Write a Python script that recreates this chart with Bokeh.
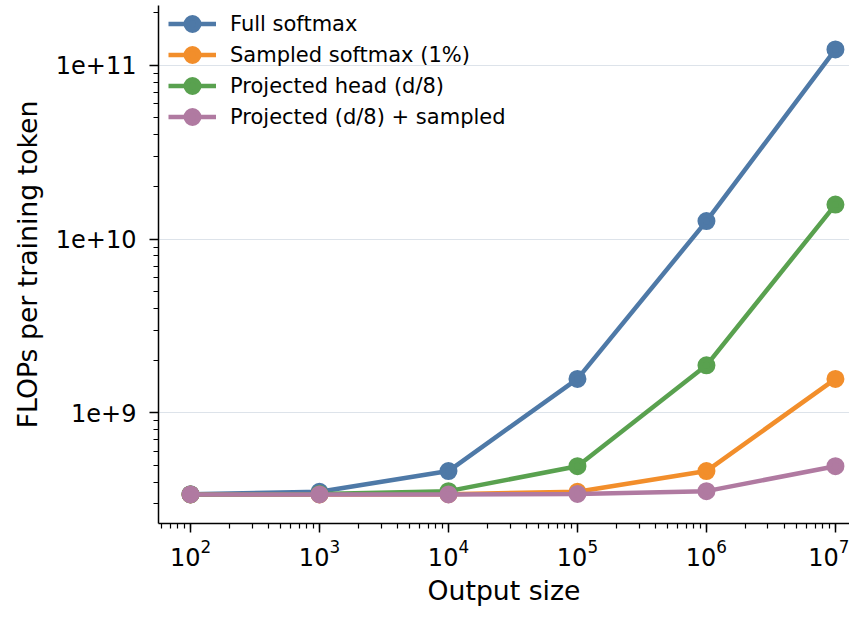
from bokeh.plotting import figure
from bokeh.models import CustomJSTickFormatter, Range1d, Legend, LegendItem
from bokeh.embed import file_html
from bokeh.resources import INLINE

output_sizes = [1e2, 1e3, 1e4, 1e5, 1e6, 1e7]
full_softmax = [3.41e8, 3.52e8, 4.63e8, 1.57e9, 1.27e10, 1.234e11]
sampled_softmax = [3.40e8, 3.40e8, 3.41e8, 3.52e8, 4.63e8, 1.57e9]
projected_head = [3.40e8, 3.42e8, 3.55e8, 4.94e8, 1.88e9, 1.58e10]
projected_sampled = [3.40e8, 3.40e8, 3.40e8, 3.42e8, 3.55e8, 4.94e8]

series_names = ["Full softmax", "Sampled softmax (1%)", "Projected head (d/8)", "Projected (d/8) + sampled"]
series_values = [full_softmax, sampled_softmax, projected_head, projected_sampled]
colors = ["#4e79a7", "#f28e2b", "#59a14f", "#b07aa1"]

FONT = "DejaVu Sans"

p = figure(width=849, height=608, x_axis_type="log", y_axis_type="log",
           output_backend="svg", toolbar_location=None,
           x_range=Range1d(10**1.752, 10**7.109), y_range=Range1d(10**8.364, 10**11.344),
           min_border_left=158, min_border_right=0, min_border_top=5, min_border_bottom=83)
p.outline_line_color = None
p.background_fill_color = "white"

items = []
for name, vals, c in zip(series_names, series_values, colors):
    l = p.line(output_sizes, vals, line_color=c, line_width=4.5)
    s = p.scatter(output_sizes, vals, size=12.5, fill_color=c, line_color=c,
                  line_width=5.5, marker="circle")
    items.append(LegendItem(label=name, renderers=[l, s]))

legend = Legend(items=items, location=(10, 520 - 5 - 124), border_line_color=None,
                background_fill_alpha=0, label_text_font=FONT, label_text_font_size="21px",
                label_text_color="black",
                glyph_width=48, glyph_height=31, spacing=0, padding=0, margin=0,
                label_standoff=14, label_height=31)
p.add_layout(legend)

p.xgrid.grid_line_color = None
p.ygrid.grid_line_color = "#dde3ea"
p.ygrid.grid_line_width = 1

p.yaxis.formatter = CustomJSTickFormatter(code="return tick.toExponential(0);")

for ax in (p.xaxis[0], p.yaxis[0]):
    ax.axis_line_color = "black"
    ax.axis_line_width = 1.5
    ax.major_tick_line_color = "black"
    ax.major_tick_line_width = 1.5
    ax.minor_tick_line_color = "black"
    ax.minor_tick_line_width = 1.2
    ax.major_tick_out = 9
    ax.major_tick_in = 0
    ax.minor_tick_out = 5
    ax.minor_tick_in = 0
    ax.major_label_text_font = FONT
    ax.major_label_text_font_size = "24px"
    ax.major_label_text_color = "black"
    ax.axis_label_text_font = FONT
    ax.axis_label_text_font_size = "26.7px"
    ax.axis_label_text_font_style = "normal"
    ax.axis_label_text_color = "black"

p.yaxis.major_label_standoff = 13
p.yaxis.axis_label_standoff = 10
p.xaxis.major_label_standoff = 6
p.xaxis.axis_label_standoff = 6

p.xaxis.axis_label = "Output size"
p.yaxis.axis_label = "FLOPs per training token"

open("out.html", "w").write(file_html(p, INLINE))
